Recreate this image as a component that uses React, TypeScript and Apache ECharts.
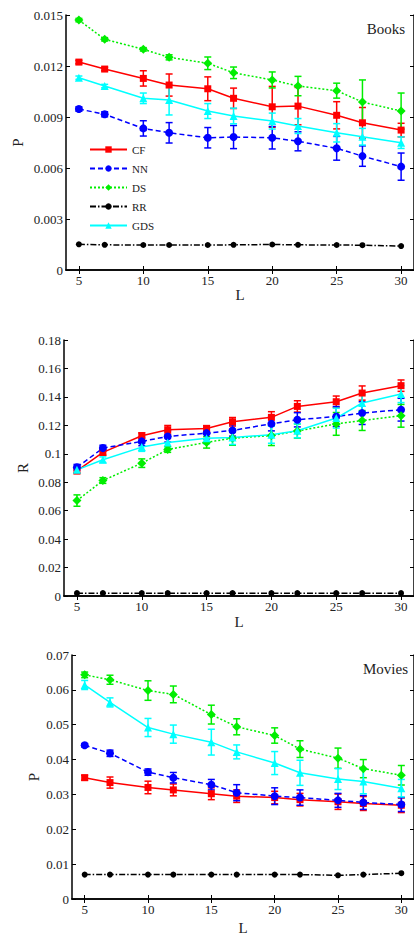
import React, { useEffect, useRef } from "react";
import * as echarts from "echarts";

const L = [5, 7, 10, 12, 15, 17, 20, 22, 25, 27, 30];
const xTicks = [5, 10, 15, 20, 25, 30];
const names = ["CF", "NN", "DS", "RR", "GDS"];

// Panel 1: Books precision
const booksP_CF = [0.01223, 0.01182, 0.01127, 0.01088, 0.01066, 0.0101, 0.0096, 0.00964, 0.0091, 0.00866, 0.00823];
const booksP_CF_err = [0.0001, 0.0001, 0.00045, 0.00065, 0.0007, 0.0006, 0.0012, 0.0011, 0.0008, 0.0009, 0.0004];
const booksP_NN = [0.00947, 0.00916, 0.00833, 0.00807, 0.00778, 0.00782, 0.00778, 0.00757, 0.00716, 0.0067, 0.00608];
const booksP_NN_err = [0.00013, 0.00015, 0.00045, 0.0006, 0.0006, 0.00068, 0.00066, 0.00056, 0.0007, 0.0006, 0.0008];
const booksP_DS = [0.0147, 0.01357, 0.01298, 0.01251, 0.01216, 0.0116, 0.01118, 0.01082, 0.01055, 0.00988, 0.00935];
const booksP_DS_err = [0.0001, 0.0001, 0.0001, 0.00015, 0.00037, 0.00034, 0.00047, 0.00057, 0.00044, 0.0013, 0.00106];
const booksP_RR = [0.00151, 0.00148, 0.00147, 0.00147, 0.00147, 0.00148, 0.0015, 0.00148, 0.00147, 0.00146, 0.00141];
const booksP_GDS = [0.01131, 0.01082, 0.0101, 0.01, 0.00935, 0.00906, 0.00876, 0.00847, 0.00807, 0.00784, 0.00749];
const booksP_GDS_err = [0.0001, 0.0001, 0.00031, 0.00088, 0.00044, 0.00046, 0.00047, 0.00044, 0.00054, 0.00049, 0.00034];

// Panel 2: recall
const r_CF = [0.088, 0.101, 0.1127, 0.1169, 0.1178, 0.1225, 0.1256, 0.1333, 0.1366, 0.1427, 0.1479];
const r_CF_err = [0.002, 0.002, 0.002, 0.003, 0.002, 0.003, 0.004, 0.004, 0.004, 0.005, 0.004];
const r_NN = [0.0905, 0.104, 0.1087, 0.1122, 0.1145, 0.1164, 0.1211, 0.1239, 0.1262, 0.1286, 0.131];
const r_NN_err = [0.002, 0.002, 0.003, 0.004, 0.004, 0.004, 0.005, 0.005, 0.007, 0.008, 0.008];
const r_DS = [0.0671, 0.0812, 0.0934, 0.103, 0.108, 0.111, 0.1128, 0.116, 0.121, 0.1234, 0.1267];
const r_DS_err = [0.004, 0.002, 0.003, 0.002, 0.004, 0.005, 0.007, 0.005, 0.008, 0.007, 0.008];
const r_RR = [0.002, 0.002, 0.002, 0.002, 0.002, 0.002, 0.002, 0.002, 0.002, 0.002, 0.002];
const r_GDS = [0.0887, 0.0958, 0.1047, 0.108, 0.111, 0.1115, 0.1134, 0.1162, 0.1251, 0.1357, 0.142];
const r_GDS_err = [0.002, 0.002, 0.003, 0.004, 0.004, 0.005, 0.006, 0.005, 0.007, 0.006, 0.006];

// Panel 3: Movies precision
const moviesP_CF = [0.0348, 0.0334, 0.032, 0.0313, 0.0302, 0.0295, 0.0291, 0.0285, 0.0279, 0.0274, 0.0269];
const moviesP_CF_err = [0.0007, 0.0016, 0.0018, 0.0017, 0.0017, 0.0018, 0.0018, 0.0018, 0.0022, 0.002, 0.0021];
const moviesP_NN = [0.0441, 0.0418, 0.0364, 0.0348, 0.0328, 0.0305, 0.0295, 0.0291, 0.0283, 0.0277, 0.0271];
const moviesP_NN_err = [0.0005, 0.0009, 0.0009, 0.0015, 0.0015, 0.0023, 0.0024, 0.0022, 0.002, 0.002, 0.002];
const moviesP_DS = [0.0643, 0.0629, 0.0598, 0.0587, 0.0529, 0.0494, 0.0469, 0.043, 0.0404, 0.0374, 0.0355];
const moviesP_DS_err = [0.0008, 0.0013, 0.0028, 0.0024, 0.0027, 0.0023, 0.0022, 0.0024, 0.0029, 0.0026, 0.0028];
const moviesP_RR = [0.007, 0.007, 0.007, 0.007, 0.007, 0.007, 0.007, 0.007, 0.0068, 0.007, 0.0074];
const moviesP_GDS = [0.0614, 0.0564, 0.0492, 0.0473, 0.045, 0.0422, 0.039, 0.0362, 0.0344, 0.0337, 0.0318];
const moviesP_GDS_err = [0.0013, 0.0013, 0.0026, 0.0026, 0.0037, 0.002, 0.0033, 0.0036, 0.003, 0.0035, 0.0025];

const FONT = "'Liberation Serif', 'Times New Roman', serif";

const styles: Record<string, any> = {
  CF: { color: "#ff0000", type: "solid", symbol: "rect", size: 7 },
  NN: { color: "#0000ff", type: [5, 3], symbol: "circle", size: 8 },
  DS: { color: "#00ee00", type: [2, 2], symbol: "diamond", size: 9 },
  RR: { color: "#000000", type: [6, 2, 1.5, 2], symbol: "circle", size: 6 },
  GDS: { color: "#00ffff", type: "solid", symbol: "triangle", size: 8 },
};

export default function App() {
  const ref = useRef<HTMLDivElement>(null);
  useEffect(() => {
    if (!ref.current) return;
    const chart = echarts.init(ref.current, null, { renderer: "svg" });

    const panels = [
      {
        grid: { left: 66, top: 15, width: 351, height: 255 },
        y: { max: 0.015, interval: 0.003, name: "P", nameGap: 41 },
        xNameGap: 17,
        data: { CF: booksP_CF, NN: booksP_NN, DS: booksP_DS, RR: booksP_RR, GDS: booksP_GDS } as Record<string, number[]>,
        err: { CF: booksP_CF_err, NN: booksP_NN_err, DS: booksP_DS_err, GDS: booksP_GDS_err } as Record<string, number[]>,
      },
      {
        grid: { left: 64, top: 340, width: 353, height: 256 },
        y: { max: 0.18, interval: 0.02, name: "R", nameGap: 34 },
        xNameGap: 18,
        data: { CF: r_CF, NN: r_NN, DS: r_DS, RR: r_RR, GDS: r_GDS } as Record<string, number[]>,
        err: { CF: r_CF_err, NN: r_NN_err, DS: r_DS_err, GDS: r_GDS_err } as Record<string, number[]>,
      },
      {
        grid: { left: 72, top: 655, width: 346, height: 252 },
        y: { max: 0.07, interval: 0.01, name: "P", nameGap: 31 },
        xNameGap: 21,
        data: { CF: moviesP_CF, NN: moviesP_NN, DS: moviesP_DS, RR: moviesP_RR, GDS: moviesP_GDS } as Record<string, number[]>,
        err: { CF: moviesP_CF_err, NN: moviesP_NN_err, DS: moviesP_DS_err, GDS: moviesP_GDS_err } as Record<string, number[]>,
      },
    ];

    const axisLine = { show: true, lineStyle: { color: "#000", width: 1.5 } };
    const labelStyle = { fontFamily: FONT, fontSize: 13, color: "#222" };
    const fmt = (v: number) => (v === 0 ? "0" : String(parseFloat(v.toFixed(4))));

    const grids: any[] = [];
    const xAxes: any[] = [];
    const yAxes: any[] = [];
    const series: any[] = [];

    panels.forEach((p, g) => {
      grids.push(p.grid);
      xAxes.push({
        type: "value", gridIndex: g, min: 4, max: 31, position: "bottom",
        axisLine, splitLine: { show: false },
        axisTick: { inside: true, length: 4, customValues: xTicks, lineStyle: { color: "#000" } },
        axisLabel: { customValues: xTicks, margin: 4, ...labelStyle },
        name: "L", nameLocation: "middle", nameGap: p.xNameGap, nameMoveOverlap: false,
        nameTextStyle: { fontFamily: FONT, fontSize: 15, color: "#222" },
      });
      xAxes.push({
        type: "value", gridIndex: g, min: 4, max: 31, position: "top",
        axisLine, splitLine: { show: false },
        axisTick: { inside: true, length: 4, customValues: xTicks, lineStyle: { color: "#000" } },
        axisLabel: { show: false },
      });
      yAxes.push({
        type: "value", gridIndex: g, min: 0, max: p.y.max, interval: p.y.interval, position: "left",
        axisLine, splitLine: { show: false },
        axisTick: { inside: true, length: 4, lineStyle: { color: "#000" } },
        axisLabel: { formatter: fmt, margin: 3, ...labelStyle },
        name: p.y.name, nameLocation: "middle", nameGap: p.y.nameGap, nameMoveOverlap: false,
        nameTextStyle: { fontFamily: FONT, fontSize: 15, color: "#222" },
      });
      yAxes.push({
        type: "value", gridIndex: g, min: 0, max: p.y.max, interval: p.y.interval, position: "right",
        axisLine, splitLine: { show: false },
        axisTick: { inside: true, length: 4, lineStyle: { color: "#000" } },
        axisLabel: { show: false },
      });

      names.forEach((n) => {
        const s = styles[n];
        series.push({
          type: "line", name: n, xAxisIndex: 2 * g, yAxisIndex: 2 * g,
          data: L.map((x, i) => [x, p.data[n][i]]),
          symbol: s.symbol, symbolSize: s.size,
          itemStyle: { color: s.color },
          lineStyle: { color: s.color, width: 1.5, type: s.type },
          z: 3,
        });
        const e = p.err[n];
        if (e) {
          series.push({
            type: "custom", name: n + " err", xAxisIndex: 2 * g, yAxisIndex: 2 * g,
            data: L.map((x, i) => [x, p.data[n][i] - e[i], p.data[n][i] + e[i]]),
            encode: { x: 0, y: [1, 2] },
            z: 2,
            renderItem: (params: any, api: any) => {
              const xv = api.value(0);
              const p1 = api.coord([xv, api.value(2)]);
              const p2 = api.coord([xv, api.value(1)]);
              const w = 3.5;
              const st = { stroke: s.color, lineWidth: 1.5 };
              return {
                type: "group",
                children: [
                  { type: "line", shape: { x1: p1[0], y1: p1[1], x2: p2[0], y2: p2[1] }, style: st },
                  { type: "line", shape: { x1: p1[0] - w, y1: p1[1], x2: p1[0] + w, y2: p1[1] }, style: st },
                  { type: "line", shape: { x1: p2[0] - w, y1: p2[1], x2: p2[0] + w, y2: p2[1] }, style: st },
                ],
              };
            },
          });
        }
      });
    });

    chart.setOption({
      animation: false,
      backgroundColor: "#fff",
      grid: grids,
      xAxis: xAxes,
      yAxis: yAxes,
      series,
      legend: {
        data: names,
        orient: "vertical",
        left: 84,
        top: 139,
        itemWidth: 37,
        itemHeight: 8,
        itemGap: 8,
        selectedMode: false,
        textStyle: { fontFamily: FONT, fontSize: 11, color: "#222" },
      },
      graphic: [
        { type: "text", right: 9, top: 21, style: { text: "Books", font: `15px ${FONT}`, fill: "#222" } },
        { type: "text", right: 6, top: 661, style: { text: "Movies", font: `15px ${FONT}`, fill: "#222" } },
      ],
    });
    return () => chart.dispose();
  }, []);
  return <div ref={ref} style={{ position: "absolute", left: 0, top: 0, width: 414, height: 936 }} />;
}
